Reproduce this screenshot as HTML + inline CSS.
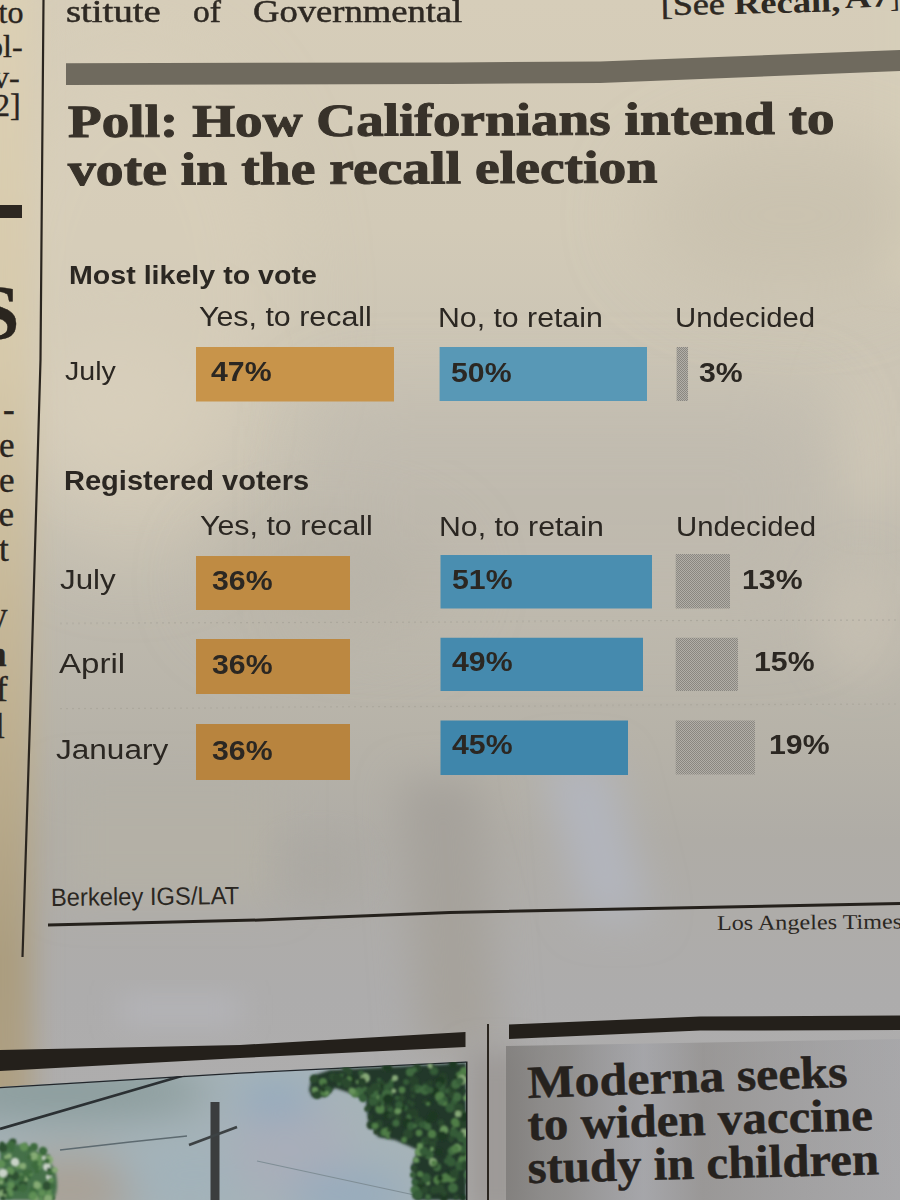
<!DOCTYPE html>
<html><head><meta charset="utf-8"><style>
html,body{margin:0;padding:0;}
body{width:900px;height:1200px;position:relative;overflow:hidden;background:#cfc9bb;}
.t{position:absolute;white-space:nowrap;}
.ov{position:absolute;left:0;top:0;}
</style></head><body>
<svg class="ov" width="900" height="1200" viewBox="0 0 900 1200">
  <defs>
    <filter id="bl40" x="-50%" y="-50%" width="200%" height="200%"><feGaussianBlur stdDeviation="40"/></filter>
    <filter id="bl20" x="-50%" y="-50%" width="200%" height="200%"><feGaussianBlur stdDeviation="20"/></filter>
    <filter id="bl15" x="-50%" y="-50%" width="200%" height="200%"><feGaussianBlur stdDeviation="14"/></filter>
    <linearGradient id="gv" x1="0" y1="0" x2="0" y2="1200" gradientUnits="userSpaceOnUse">
      <stop offset="0" stop-color="#d6cdb9"/>
      <stop offset="0.19" stop-color="#d2cab7"/>
      <stop offset="0.36" stop-color="#c7c1b3"/>
      <stop offset="0.50" stop-color="#bfbaae"/>
      <stop offset="0.62" stop-color="#b6b2a8"/>
      <stop offset="0.70" stop-color="#afaca6"/>
      <stop offset="0.83" stop-color="#adacac"/>
      <stop offset="1" stop-color="#afaeae"/>
    </linearGradient>
    <linearGradient id="glc" x1="0" y1="0" x2="0" y2="1200" gradientUnits="userSpaceOnUse">
      <stop offset="0" stop-color="#dcd0b4"/>
      <stop offset="0.3" stop-color="#d6c9ab"/>
      <stop offset="0.6" stop-color="#bfb090"/>
      <stop offset="0.8" stop-color="#ab9d7f"/>
      <stop offset="1" stop-color="#b0a286"/>
    </linearGradient>
    <linearGradient id="gh" x1="0" y1="0" x2="900" y2="0" gradientUnits="userSpaceOnUse">
      <stop offset="0" stop-color="#fff6e0" stop-opacity="0.14"/>
      <stop offset="0.35" stop-color="#fff6e0" stop-opacity="0.0"/>
      <stop offset="0.7" stop-color="#000" stop-opacity="0.0"/>
      <stop offset="1" stop-color="#000" stop-opacity="0.02"/>
    </linearGradient>
  </defs>
  <rect width="900" height="1200" fill="url(#gv)"/>
  <ellipse cx="130" cy="300" rx="160" ry="260" fill="#dbd1bc" opacity="0.5" filter="url(#bl40)"/>
  <rect x="880" y="-20" width="60" height="300" fill="#d6ceb9" filter="url(#bl15)"/>
  <ellipse cx="120" cy="400" rx="90" ry="70" fill="#d8cfbb" filter="url(#bl40)"/>
  <ellipse cx="870" cy="430" rx="40" ry="80" fill="#cdc6b6" filter="url(#bl20)"/>
  <rect x="320" y="400" width="500" height="220" fill="#bdb8ad" opacity="0.6" filter="url(#bl40)"/>
  <ellipse cx="790" cy="215" rx="150" ry="80" fill="#c5bdab" opacity="0.6" filter="url(#bl40)"/>
  <ellipse cx="330" cy="580" rx="120" ry="60" fill="#b3aea3" opacity="0.5" filter="url(#bl40)"/>
  <ellipse cx="860" cy="620" rx="40" ry="60" fill="#c8c1b3" opacity="0.7" filter="url(#bl20)"/>
  <!-- lower shading -->
  <path d="M400 780 L480 780 L500 1050 L420 1050 Z" fill="#a6a29b" filter="url(#bl20)"/>
  <path d="M540 760 L610 760 L650 920 L585 920 Z" fill="#b2b5bd" filter="url(#bl20)"/>
  <rect x="60" y="780" width="220" height="120" fill="#b4b0a6" filter="url(#bl20)"/>
  <rect x="120" y="995" width="120" height="30" fill="#b4b4b8" filter="url(#bl15)"/>
  <rect x="280" y="840" width="80" height="60" fill="#aaa7a0" opacity="0.7" filter="url(#bl20)"/>
  <rect x="466" y="1050" width="60" height="170" fill="#9d9a97" filter="url(#bl15)"/>

  <!-- left column warm -->
  <rect x="-40" y="-20" width="73" height="1240" fill="url(#glc)" filter="url(#bl15)"/>
</svg>
<svg class="ov" width="900" height="1200" viewBox="0 0 900 1200">
  <defs>
    <pattern id="chk" width="2" height="2" patternUnits="userSpaceOnUse">
      <rect width="2" height="2" fill="#b2afa8"/><rect width="1" height="1" fill="#8a8780"/><rect x="1" y="1" width="1" height="1" fill="#8a8780"/>
    </pattern>
    <pattern id="dash" width="6" height="2" patternUnits="userSpaceOnUse">
      <rect width="2" height="1.5" fill="#aca89d"/>
    </pattern>
    <filter id="tb" x="-20%" y="-20%" width="140%" height="140%"><feGaussianBlur stdDeviation="1.5"/></filter><filter id="tb2" x="-20%" y="-20%" width="140%" height="140%"><feGaussianBlur stdDeviation="0.8"/></filter>
    <linearGradient id="boxg" x1="506" y1="0" x2="900" y2="0" gradientUnits="userSpaceOnUse">
      <stop offset="0" stop-color="#7a7876" stop-opacity="0.75"/>
      <stop offset="0.15" stop-color="#7e7c7a" stop-opacity="0.6"/>
      <stop offset="0.35" stop-color="#9a9ca4" stop-opacity="0.45"/>
      <stop offset="0.5" stop-color="#84817f" stop-opacity="0.5"/>
      <stop offset="1" stop-color="#9c9da3" stop-opacity="0.35"/>
    </linearGradient>
    <clipPath id="pc"><polygon points="0,1087 240,1072.5 466,1061.5 466,1200 0,1200"/></clipPath>
  </defs>
  <path d="M43.5 0 L40.5 360 L30 720 L22.5 957" stroke="#2a251f" stroke-width="2.2" fill="none"/>
  <polygon points="66,63.2 450,62.5 600,61.5 900,50 900,71 600,83 450,84 66,85" fill="#6f6a5e"/>
  <polygon points="56,622.8 900,619 900,620.5 56,624.3" fill="url(#dash)"/>
  <polygon points="56,708 900,703 900,704.5 56,709.5" fill="url(#dash)"/>
  <polygon points="196.0,347.0 394.0,347.0 394.0,401.5 196.0,401.5" fill="#c8944a" /><polygon points="439.6,347.0 647.0,347.0 647.0,401.0 439.6,401.0" fill="#5898b6" /><polygon points="676.6,347.0 688.0,347.0 688.0,401.0 676.6,401.0" fill="url(#chk)" /><polygon points="196.0,556.0 350.0,556.0 350.0,610.0 196.0,610.0" fill="#bf8b43" /><polygon points="440.5,555.0 652.0,555.0 652.0,608.5 440.5,608.5" fill="#4a8eb0" /><polygon points="675.7,554.0 730.0,554.0 730.0,608.5 675.7,608.5" fill="url(#chk)" /><polygon points="196.0,639.0 350.0,639.0 350.0,694.0 196.0,694.0" fill="#bc8841" /><polygon points="440.5,637.7 643.0,637.7 643.0,691.0 440.5,691.0" fill="#458aae" /><polygon points="675.7,637.7 738.0,637.7 738.0,691.0 675.7,691.0" fill="url(#chk)" /><polygon points="196.0,724.0 350.0,724.0 350.0,780.0 196.0,780.0" fill="#b8843e" /><polygon points="440.5,720.5 628.0,720.5 628.0,775.0 440.5,775.0" fill="#3f86ab" /><polygon points="675.7,720.5 755.0,720.5 755.0,774.5 675.7,774.5" fill="url(#chk)" />
  <path d="M48 925 L260 920 L450 912.5 L900 903.5" stroke="#25211c" stroke-width="3" fill="none"/>
  <polygon points="0,1050 240,1045 465.5,1032 465.5,1047 240,1058 0,1071" fill="#24201b"/>
  <polygon points="509,1024.4 700,1016.6 900,1015.6 900,1030 700,1030.6 509,1039" fill="#24201b"/>
  <path d="M488 1024 L488 1200" stroke="#2a251f" stroke-width="2" fill="none"/>
  <path d="M466.5 1061.5 L466.5 1200" stroke="#1c2020" stroke-width="2" fill="none"/>
  <!-- Moderna box -->
  <polygon points="506,1046 900,1039 900,1200 506,1200" fill="url(#boxg)"/>
  <!-- photo -->
  <g clip-path="url(#pc)">
    <rect x="0" y="1050" width="470" height="150" fill="#a6b3b8"/>
    <g filter="url(#bl20)">
      <ellipse cx="60" cy="1092" rx="150" ry="30" fill="#8c9d9d"/>
      <ellipse cx="70" cy="1190" rx="70" ry="35" fill="#a9a196"/>
      <ellipse cx="190" cy="1175" rx="70" ry="35" fill="#a2b2ba"/>
      <ellipse cx="290" cy="1150" rx="60" ry="50" fill="#a9aeb9"/>
      <ellipse cx="350" cy="1195" rx="60" ry="25" fill="#96abbd"/>
      <ellipse cx="275" cy="1100" rx="40" ry="16" fill="#8fa9bf"/>
    </g>
    <path d="M0 1129 L120 1094 L185 1075" stroke="#2b3033" stroke-width="2.8" fill="none"/>
    <path d="M0 1087 L240 1072.5 L466 1061.5" stroke="#22252a" stroke-width="2.5" fill="none"/>
    <path d="M60 1150 L130 1142 L187 1136" stroke="#5d6a70" stroke-width="1.6" fill="none"/>
    <path d="M257 1161 L419 1196" stroke="#7f8e96" stroke-width="1.2" fill="none"/>
    <rect x="210.5" y="1102" width="9" height="100" fill="#3b3d3e"/>
    <path d="M189 1145 L237 1127" stroke="#3d4244" stroke-width="2.8" fill="none"/>
    <g filter="url(#tb)">
      <polygon points="309,1090 312,1076 330,1070 466,1063 466,1200 415,1200 412,1165 418,1150 395,1140 378,1137 368,1120 366,1100 350,1093 335,1088 325,1097 312,1097" fill="#22382b"/>
      <path d="M0 1145 C20 1140 45 1150 55 1170 C60 1190 55 1200 50 1200 L0 1200 Z" fill="#44704a"/>
    </g>
    <g filter="url(#tb2)"><circle cx="358" cy="1082" r="2.2" fill="#66935a"/><circle cx="393" cy="1113" r="3.5" fill="#2b4a2e"/><circle cx="325" cy="1092" r="4.8" fill="#4f7d47"/><circle cx="400" cy="1118" r="2.1" fill="#27422a"/><circle cx="447" cy="1102" r="2.4" fill="#2b4a2e"/><circle cx="410" cy="1114" r="2.2" fill="#4f7d47"/><circle cx="315" cy="1090" r="3.3" fill="#66935a"/><circle cx="380" cy="1103" r="4.1" fill="#3f6a3f"/><circle cx="425" cy="1102" r="2.4" fill="#27422a"/><circle cx="431" cy="1143" r="2.9" fill="#27422a"/><circle cx="420" cy="1146" r="3.4" fill="#4f7d47"/><circle cx="444" cy="1197" r="4.0" fill="#1f3823"/><circle cx="441" cy="1101" r="4.0" fill="#1f3823"/><circle cx="333" cy="1077" r="4.3" fill="#2b4a2e"/><circle cx="440" cy="1185" r="3.2" fill="#355c38"/><circle cx="463" cy="1082" r="2.7" fill="#2b4a2e"/><circle cx="402" cy="1098" r="3.3" fill="#2b4a2e"/><circle cx="462" cy="1160" r="3.9" fill="#4f7d47"/><circle cx="417" cy="1068" r="4.3" fill="#27422a"/><circle cx="449" cy="1176" r="3.2" fill="#1f3823"/><circle cx="339" cy="1084" r="2.2" fill="#355c38"/><circle cx="406" cy="1082" r="3.0" fill="#355c38"/><circle cx="365" cy="1078" r="5.0" fill="#86a877"/><circle cx="382" cy="1130" r="2.3" fill="#2b4a2e"/><circle cx="442" cy="1083" r="4.9" fill="#2b4a2e"/><circle cx="392" cy="1081" r="2.1" fill="#4f7d47"/><circle cx="447" cy="1161" r="3.1" fill="#355c38"/><circle cx="359" cy="1092" r="5.0" fill="#3f6a3f"/><circle cx="446" cy="1177" r="4.2" fill="#3f6a3f"/><circle cx="463" cy="1125" r="5.0" fill="#27422a"/><circle cx="463" cy="1113" r="2.7" fill="#355c38"/><circle cx="444" cy="1130" r="4.4" fill="#66935a"/><circle cx="455" cy="1173" r="3.4" fill="#3f6a3f"/><circle cx="465" cy="1117" r="4.8" fill="#1f3823"/><circle cx="425" cy="1085" r="2.5" fill="#2b4a2e"/><circle cx="454" cy="1177" r="4.5" fill="#2b4a2e"/><circle cx="467" cy="1155" r="3.6" fill="#355c38"/><circle cx="465" cy="1154" r="4.8" fill="#4f7d47"/><circle cx="441" cy="1091" r="2.9" fill="#355c38"/><circle cx="388" cy="1137" r="2.1" fill="#4f7d47"/><circle cx="378" cy="1087" r="4.4" fill="#2b4a2e"/><circle cx="425" cy="1141" r="3.6" fill="#355c38"/><circle cx="432" cy="1134" r="4.3" fill="#4f7d47"/><circle cx="456" cy="1124" r="3.5" fill="#4f7d47"/><circle cx="420" cy="1187" r="2.8" fill="#27422a"/><circle cx="444" cy="1080" r="3.3" fill="#2b4a2e"/><circle cx="317" cy="1095" r="4.0" fill="#2b4a2e"/><circle cx="434" cy="1190" r="4.1" fill="#2b4a2e"/><circle cx="414" cy="1081" r="4.9" fill="#27422a"/><circle cx="468" cy="1181" r="3.3" fill="#2b4a2e"/><circle cx="390" cy="1109" r="3.0" fill="#355c38"/><circle cx="396" cy="1124" r="3.0" fill="#2b4a2e"/><circle cx="408" cy="1134" r="5.0" fill="#2b4a2e"/><circle cx="350" cy="1079" r="4.7" fill="#1f3823"/><circle cx="440" cy="1097" r="4.8" fill="#2b4a2e"/><circle cx="419" cy="1122" r="4.8" fill="#2b4a2e"/><circle cx="380" cy="1109" r="4.8" fill="#4f7d47"/><circle cx="349" cy="1079" r="2.7" fill="#4f7d47"/><circle cx="323" cy="1083" r="2.6" fill="#2b4a2e"/><circle cx="430" cy="1102" r="2.5" fill="#1f3823"/><circle cx="426" cy="1140" r="3.4" fill="#2b4a2e"/><circle cx="459" cy="1075" r="3.3" fill="#3f6a3f"/><circle cx="422" cy="1152" r="3.0" fill="#1f3823"/><circle cx="314" cy="1079" r="4.2" fill="#2b4a2e"/><circle cx="347" cy="1084" r="4.5" fill="#2b4a2e"/><circle cx="449" cy="1157" r="2.7" fill="#355c38"/><circle cx="465" cy="1139" r="4.9" fill="#355c38"/><circle cx="383" cy="1133" r="3.5" fill="#355c38"/><circle cx="355" cy="1094" r="3.6" fill="#4f7d47"/><circle cx="429" cy="1155" r="4.6" fill="#3f6a3f"/><circle cx="369" cy="1107" r="2.4" fill="#27422a"/><circle cx="424" cy="1153" r="4.5" fill="#2b4a2e"/><circle cx="452" cy="1151" r="4.4" fill="#3f6a3f"/><circle cx="438" cy="1180" r="4.7" fill="#4f7d47"/><circle cx="418" cy="1161" r="2.1" fill="#355c38"/><circle cx="437" cy="1168" r="3.6" fill="#1f3823"/><circle cx="414" cy="1070" r="2.8" fill="#3f6a3f"/><circle cx="425" cy="1090" r="4.9" fill="#3f6a3f"/><circle cx="387" cy="1115" r="4.1" fill="#1f3823"/><circle cx="432" cy="1149" r="2.2" fill="#66935a"/><circle cx="428" cy="1104" r="2.0" fill="#4f7d47"/><circle cx="416" cy="1160" r="2.9" fill="#66935a"/><circle cx="390" cy="1127" r="2.4" fill="#1f3823"/><circle cx="452" cy="1089" r="4.8" fill="#27422a"/><circle cx="379" cy="1099" r="4.8" fill="#355c38"/><circle cx="462" cy="1079" r="3.5" fill="#3f6a3f"/><circle cx="451" cy="1162" r="4.7" fill="#355c38"/><circle cx="379" cy="1104" r="3.0" fill="#2b4a2e"/><circle cx="443" cy="1077" r="4.1" fill="#27422a"/><circle cx="454" cy="1102" r="3.2" fill="#355c38"/><circle cx="470" cy="1145" r="3.3" fill="#355c38"/><circle cx="389" cy="1088" r="4.9" fill="#355c38"/><circle cx="451" cy="1178" r="4.7" fill="#4f7d47"/><circle cx="460" cy="1140" r="2.1" fill="#3f6a3f"/><circle cx="426" cy="1125" r="3.9" fill="#3f6a3f"/><circle cx="458" cy="1078" r="3.0" fill="#1f3823"/><circle cx="466" cy="1098" r="2.9" fill="#66935a"/><circle cx="397" cy="1117" r="2.5" fill="#2b4a2e"/><circle cx="387" cy="1092" r="5.0" fill="#27422a"/><circle cx="379" cy="1080" r="2.3" fill="#355c38"/><circle cx="361" cy="1073" r="2.8" fill="#355c38"/><circle cx="429" cy="1120" r="3.6" fill="#1f3823"/><circle cx="367" cy="1109" r="2.8" fill="#2b4a2e"/><circle cx="465" cy="1078" r="3.9" fill="#1f3823"/><circle cx="447" cy="1091" r="2.7" fill="#355c38"/><circle cx="371" cy="1125" r="4.5" fill="#27422a"/><circle cx="453" cy="1129" r="2.0" fill="#4f7d47"/><circle cx="441" cy="1184" r="2.7" fill="#27422a"/><circle cx="323" cy="1082" r="4.0" fill="#4f7d47"/><circle cx="460" cy="1165" r="4.3" fill="#66935a"/><circle cx="412" cy="1104" r="2.8" fill="#2b4a2e"/><circle cx="369" cy="1092" r="2.0" fill="#4f7d47"/><circle cx="463" cy="1153" r="3.4" fill="#27422a"/><circle cx="464" cy="1162" r="2.1" fill="#355c38"/><circle cx="374" cy="1097" r="4.8" fill="#66935a"/><circle cx="418" cy="1089" r="4.2" fill="#3f6a3f"/><circle cx="388" cy="1090" r="2.9" fill="#27422a"/><circle cx="440" cy="1093" r="4.3" fill="#355c38"/><circle cx="387" cy="1087" r="3.3" fill="#355c38"/><circle cx="453" cy="1188" r="5.0" fill="#3f6a3f"/><circle cx="459" cy="1108" r="4.8" fill="#2b4a2e"/><circle cx="415" cy="1115" r="3.0" fill="#355c38"/><circle cx="463" cy="1078" r="2.6" fill="#27422a"/><circle cx="441" cy="1123" r="3.4" fill="#2b4a2e"/><circle cx="453" cy="1064" r="4.4" fill="#1f3823"/><circle cx="432" cy="1066" r="2.2" fill="#2b4a2e"/><circle cx="457" cy="1097" r="4.7" fill="#3f6a3f"/><circle cx="463" cy="1149" r="4.1" fill="#355c38"/><circle cx="456" cy="1152" r="2.1" fill="#27422a"/><circle cx="463" cy="1198" r="2.8" fill="#1f3823"/><circle cx="376" cy="1132" r="2.5" fill="#27422a"/><circle cx="437" cy="1167" r="4.3" fill="#3f6a3f"/><circle cx="405" cy="1108" r="3.1" fill="#355c38"/><circle cx="434" cy="1071" r="4.3" fill="#355c38"/><circle cx="346" cy="1069" r="3.7" fill="#2b4a2e"/><circle cx="349" cy="1072" r="3.5" fill="#2b4a2e"/><circle cx="422" cy="1125" r="3.3" fill="#355c38"/><circle cx="428" cy="1183" r="2.4" fill="#66935a"/><circle cx="444" cy="1103" r="3.1" fill="#4f7d47"/><circle cx="427" cy="1089" r="2.7" fill="#355c38"/><circle cx="400" cy="1107" r="5.0" fill="#1f3823"/><circle cx="389" cy="1094" r="4.0" fill="#3f6a3f"/><circle cx="469" cy="1075" r="4.5" fill="#1f3823"/><circle cx="444" cy="1193" r="2.9" fill="#2b4a2e"/><circle cx="325" cy="1087" r="3.7" fill="#27422a"/><circle cx="458" cy="1114" r="3.3" fill="#86a877"/><circle cx="461" cy="1075" r="3.9" fill="#4f7d47"/><circle cx="328" cy="1090" r="3.8" fill="#355c38"/><circle cx="413" cy="1089" r="3.0" fill="#2b4a2e"/><circle cx="417" cy="1087" r="2.6" fill="#355c38"/><circle cx="436" cy="1139" r="2.3" fill="#2b4a2e"/><circle cx="410" cy="1073" r="4.1" fill="#2b4a2e"/><circle cx="373" cy="1101" r="4.9" fill="#355c38"/><circle cx="365" cy="1089" r="2.6" fill="#3f6a3f"/><circle cx="381" cy="1084" r="3.7" fill="#2b4a2e"/><circle cx="338" cy="1078" r="4.9" fill="#27422a"/><circle cx="385" cy="1068" r="3.2" fill="#27422a"/><circle cx="454" cy="1150" r="2.5" fill="#3f6a3f"/><circle cx="435" cy="1092" r="4.5" fill="#1f3823"/><circle cx="442" cy="1087" r="3.2" fill="#355c38"/><circle cx="390" cy="1116" r="2.7" fill="#2b4a2e"/><circle cx="425" cy="1190" r="3.7" fill="#2b4a2e"/><circle cx="430" cy="1066" r="2.4" fill="#86a877"/><circle cx="404" cy="1140" r="2.9" fill="#4f7d47"/><circle cx="379" cy="1124" r="3.9" fill="#2b4a2e"/><circle cx="386" cy="1094" r="4.3" fill="#3f6a3f"/><circle cx="381" cy="1086" r="2.3" fill="#1f3823"/><circle cx="410" cy="1072" r="4.3" fill="#3f6a3f"/><circle cx="389" cy="1068" r="3.1" fill="#1f3823"/><circle cx="462" cy="1080" r="5.0" fill="#86a877"/><circle cx="426" cy="1178" r="4.9" fill="#355c38"/><circle cx="456" cy="1084" r="4.8" fill="#3f6a3f"/><circle cx="430" cy="1083" r="2.8" fill="#27422a"/><circle cx="440" cy="1081" r="4.8" fill="#1f3823"/><circle cx="388" cy="1106" r="2.5" fill="#2b4a2e"/><circle cx="417" cy="1190" r="4.4" fill="#2b4a2e"/><circle cx="410" cy="1112" r="3.7" fill="#27422a"/><circle cx="409" cy="1117" r="2.8" fill="#3f6a3f"/><circle cx="468" cy="1144" r="4.3" fill="#355c38"/><circle cx="378" cy="1086" r="2.1" fill="#3f6a3f"/><circle cx="440" cy="1097" r="5.0" fill="#4f7d47"/><circle cx="407" cy="1123" r="4.7" fill="#1f3823"/><circle cx="327" cy="1093" r="2.1" fill="#66935a"/><circle cx="402" cy="1090" r="3.4" fill="#4f7d47"/><circle cx="345" cy="1082" r="3.9" fill="#2b4a2e"/><circle cx="449" cy="1173" r="2.8" fill="#1f3823"/><circle cx="398" cy="1111" r="3.3" fill="#66935a"/><circle cx="460" cy="1166" r="4.7" fill="#355c38"/><circle cx="372" cy="1094" r="4.3" fill="#2b4a2e"/><circle cx="460" cy="1081" r="3.8" fill="#355c38"/><circle cx="439" cy="1085" r="2.9" fill="#355c38"/><circle cx="434" cy="1164" r="4.5" fill="#2b4a2e"/><circle cx="428" cy="1127" r="3.4" fill="#3f6a3f"/><circle cx="342" cy="1075" r="2.1" fill="#355c38"/><circle cx="420" cy="1183" r="2.8" fill="#3f6a3f"/><circle cx="396" cy="1123" r="3.6" fill="#3f6a3f"/><circle cx="464" cy="1091" r="2.0" fill="#27422a"/><circle cx="428" cy="1197" r="3.0" fill="#3f6a3f"/><circle cx="450" cy="1108" r="4.7" fill="#355c38"/><circle cx="420" cy="1184" r="4.2" fill="#1f3823"/><circle cx="399" cy="1105" r="3.9" fill="#355c38"/><circle cx="362" cy="1081" r="2.1" fill="#2b4a2e"/><circle cx="419" cy="1152" r="4.2" fill="#66935a"/><circle cx="440" cy="1189" r="4.6" fill="#2b4a2e"/><circle cx="456" cy="1197" r="2.6" fill="#2b4a2e"/><circle cx="445" cy="1178" r="4.5" fill="#4f7d47"/><circle cx="409" cy="1102" r="2.3" fill="#2b4a2e"/><circle cx="430" cy="1090" r="3.3" fill="#355c38"/><circle cx="464" cy="1133" r="3.9" fill="#86a877"/><circle cx="394" cy="1091" r="2.3" fill="#86a877"/><circle cx="440" cy="1085" r="2.6" fill="#2b4a2e"/><circle cx="352" cy="1091" r="3.5" fill="#66935a"/><circle cx="420" cy="1174" r="3.1" fill="#4f7d47"/><circle cx="371" cy="1117" r="2.3" fill="#27422a"/><circle cx="454" cy="1133" r="4.7" fill="#355c38"/><circle cx="429" cy="1154" r="3.0" fill="#355c38"/><circle cx="414" cy="1168" r="3.3" fill="#2b4a2e"/><circle cx="433" cy="1144" r="3.4" fill="#2b4a2e"/><circle cx="451" cy="1095" r="2.9" fill="#2b4a2e"/><circle cx="421" cy="1182" r="2.5" fill="#2b4a2e"/><circle cx="391" cy="1083" r="2.6" fill="#355c38"/><circle cx="466" cy="1166" r="4.9" fill="#2b4a2e"/><circle cx="467" cy="1175" r="3.3" fill="#3f6a3f"/><circle cx="323" cy="1090" r="2.1" fill="#1f3823"/><circle cx="419" cy="1133" r="3.4" fill="#4f7d47"/><circle cx="455" cy="1122" r="4.2" fill="#4f7d47"/><circle cx="374" cy="1093" r="4.6" fill="#3f6a3f"/><circle cx="433" cy="1162" r="4.0" fill="#86a877"/><circle cx="411" cy="1126" r="3.9" fill="#355c38"/><circle cx="434" cy="1163" r="2.8" fill="#4f7d47"/><circle cx="375" cy="1126" r="3.2" fill="#4f7d47"/><circle cx="416" cy="1195" r="4.0" fill="#2b4a2e"/><circle cx="433" cy="1116" r="4.9" fill="#1f3823"/><circle cx="460" cy="1135" r="3.7" fill="#2b4a2e"/><circle cx="442" cy="1136" r="4.8" fill="#1f3823"/><circle cx="363" cy="1098" r="4.2" fill="#355c38"/><circle cx="460" cy="1136" r="4.4" fill="#355c38"/><circle cx="370" cy="1091" r="4.3" fill="#2b4a2e"/><circle cx="439" cy="1152" r="3.7" fill="#1f3823"/><circle cx="440" cy="1178" r="2.9" fill="#1f3823"/><circle cx="395" cy="1078" r="3.1" fill="#86a877"/><circle cx="445" cy="1099" r="2.8" fill="#355c38"/><circle cx="375" cy="1087" r="4.2" fill="#2b4a2e"/><circle cx="414" cy="1113" r="4.6" fill="#27422a"/><circle cx="454" cy="1174" r="4.5" fill="#2b4a2e"/><circle cx="413" cy="1096" r="2.4" fill="#2b4a2e"/><circle cx="362" cy="1082" r="4.4" fill="#27422a"/><circle cx="415" cy="1190" r="4.5" fill="#3f6a3f"/><circle cx="397" cy="1098" r="2.4" fill="#355c38"/><circle cx="386" cy="1068" r="2.4" fill="#1f3823"/><circle cx="386" cy="1132" r="4.6" fill="#4f7d47"/><circle cx="415" cy="1182" r="3.3" fill="#355c38"/><circle cx="464" cy="1071" r="3.9" fill="#4f7d47"/><circle cx="418" cy="1195" r="4.9" fill="#355c38"/><circle cx="389" cy="1130" r="2.1" fill="#27422a"/><circle cx="424" cy="1151" r="4.6" fill="#355c38"/><circle cx="441" cy="1102" r="3.2" fill="#3f6a3f"/><circle cx="388" cy="1099" r="4.9" fill="#1f3823"/><circle cx="413" cy="1175" r="3.0" fill="#355c38"/><circle cx="451" cy="1139" r="2.9" fill="#2b4a2e"/><circle cx="457" cy="1148" r="4.4" fill="#66935a"/><circle cx="455" cy="1149" r="3.9" fill="#4f7d47"/><circle cx="420" cy="1146" r="2.6" fill="#66935a"/><circle cx="415" cy="1126" r="2.3" fill="#3f6a3f"/><circle cx="46" cy="1199" r="2.9" fill="#2d5030"/><circle cx="49" cy="1191" r="2.6" fill="#5f8f55"/><circle cx="18" cy="1166" r="3.1" fill="#5f8f55"/><circle cx="3" cy="1176" r="2.3" fill="#3c6a3e"/><circle cx="49" cy="1177" r="3.1" fill="#c9d3c8"/><circle cx="1" cy="1164" r="4.3" fill="#5f8f55"/><circle cx="25" cy="1145" r="2.5" fill="#2d5030"/><circle cx="0" cy="1184" r="4.4" fill="#3c6a3e"/><circle cx="5" cy="1196" r="2.0" fill="#3c6a3e"/><circle cx="43" cy="1154" r="2.5" fill="#2d5030"/><circle cx="3" cy="1190" r="4.1" fill="#2d5030"/><circle cx="38" cy="1186" r="4.3" fill="#5f8f55"/><circle cx="1" cy="1182" r="2.2" fill="#86ab74"/><circle cx="19" cy="1187" r="4.2" fill="#3c6a3e"/><circle cx="22" cy="1177" r="3.7" fill="#5f8f55"/><circle cx="9" cy="1191" r="3.6" fill="#5f8f55"/><circle cx="38" cy="1166" r="4.0" fill="#5f8f55"/><circle cx="34" cy="1158" r="4.4" fill="#3c6a3e"/><circle cx="42" cy="1193" r="3.5" fill="#5f8f55"/><circle cx="36" cy="1159" r="4.2" fill="#5f8f55"/><circle cx="23" cy="1184" r="4.2" fill="#2d5030"/><circle cx="48" cy="1157" r="2.7" fill="#3c6a3e"/><circle cx="25" cy="1177" r="4.2" fill="#86ab74"/><circle cx="3" cy="1194" r="4.2" fill="#86ab74"/><circle cx="34" cy="1156" r="4.0" fill="#86ab74"/><circle cx="41" cy="1199" r="2.2" fill="#5f8f55"/><circle cx="33" cy="1191" r="3.9" fill="#3c6a3e"/><circle cx="36" cy="1183" r="2.5" fill="#5f8f55"/><circle cx="15" cy="1188" r="3.1" fill="#2d5030"/><circle cx="5" cy="1192" r="2.6" fill="#2d5030"/><circle cx="35" cy="1198" r="3.3" fill="#86ab74"/><circle cx="29" cy="1177" r="2.5" fill="#3c6a3e"/><circle cx="11" cy="1185" r="3.4" fill="#5f8f55"/><circle cx="24" cy="1173" r="2.1" fill="#3c6a3e"/><circle cx="6" cy="1180" r="2.4" fill="#2d5030"/><circle cx="36" cy="1161" r="2.1" fill="#5f8f55"/><circle cx="52" cy="1171" r="2.7" fill="#5f8f55"/><circle cx="47" cy="1167" r="3.9" fill="#c9d3c8"/><circle cx="12" cy="1150" r="2.1" fill="#3c6a3e"/><circle cx="33" cy="1196" r="4.4" fill="#5f8f55"/><circle cx="36" cy="1165" r="4.4" fill="#3c6a3e"/><circle cx="15" cy="1176" r="4.4" fill="#2d5030"/><circle cx="40" cy="1164" r="2.4" fill="#5f8f55"/><circle cx="15" cy="1162" r="4.3" fill="#c9d3c8"/><circle cx="47" cy="1186" r="4.5" fill="#2d5030"/><circle cx="3" cy="1148" r="4.3" fill="#2d5030"/><circle cx="41" cy="1158" r="3.9" fill="#5f8f55"/><circle cx="6" cy="1160" r="2.3" fill="#3c6a3e"/><circle cx="29" cy="1149" r="2.4" fill="#3c6a3e"/><circle cx="43" cy="1151" r="4.3" fill="#3c6a3e"/><circle cx="52" cy="1198" r="3.1" fill="#3c6a3e"/><circle cx="51" cy="1180" r="2.8" fill="#5f8f55"/><circle cx="49" cy="1170" r="2.4" fill="#2d5030"/><circle cx="13" cy="1142" r="3.4" fill="#2d5030"/><circle cx="9" cy="1196" r="3.0" fill="#3c6a3e"/><circle cx="9" cy="1156" r="2.8" fill="#86ab74"/><circle cx="10" cy="1171" r="4.3" fill="#5f8f55"/><circle cx="3" cy="1198" r="2.5" fill="#2d5030"/><circle cx="29" cy="1157" r="2.5" fill="#3c6a3e"/><circle cx="6" cy="1157" r="2.1" fill="#86ab74"/><circle cx="44" cy="1158" r="2.0" fill="#c9d3c8"/><circle cx="48" cy="1161" r="2.0" fill="#3c6a3e"/><circle cx="50" cy="1173" r="3.1" fill="#3c6a3e"/><circle cx="34" cy="1147" r="3.9" fill="#3c6a3e"/><circle cx="43" cy="1151" r="2.2" fill="#3c6a3e"/><circle cx="37" cy="1171" r="2.5" fill="#3c6a3e"/><circle cx="37" cy="1185" r="3.5" fill="#86ab74"/><circle cx="12" cy="1142" r="3.0" fill="#2d5030"/><circle cx="49" cy="1160" r="4.2" fill="#86ab74"/><circle cx="55" cy="1170" r="2.7" fill="#86ab74"/><circle cx="11" cy="1194" r="2.4" fill="#5f8f55"/><circle cx="22" cy="1178" r="3.3" fill="#3c6a3e"/><circle cx="27" cy="1173" r="3.8" fill="#3c6a3e"/><circle cx="49" cy="1196" r="3.8" fill="#5f8f55"/><circle cx="23" cy="1188" r="4.2" fill="#3c6a3e"/><circle cx="31" cy="1174" r="2.1" fill="#5f8f55"/><circle cx="11" cy="1145" r="4.0" fill="#3c6a3e"/><circle cx="2" cy="1144" r="2.5" fill="#2d5030"/><circle cx="1" cy="1178" r="3.3" fill="#5f8f55"/><circle cx="52" cy="1186" r="2.3" fill="#3c6a3e"/><circle cx="30" cy="1172" r="2.3" fill="#3c6a3e"/><circle cx="24" cy="1147" r="4.2" fill="#5f8f55"/><circle cx="9" cy="1176" r="2.4" fill="#2d5030"/><circle cx="23" cy="1166" r="3.3" fill="#86ab74"/><circle cx="47" cy="1161" r="2.8" fill="#3c6a3e"/><circle cx="48" cy="1199" r="4.1" fill="#86ab74"/><circle cx="3" cy="1173" r="4.3" fill="#c9d3c8"/></g>
  </g>
  </g>
</svg>
<div class="t" style="left:65.5px;top:-4.4px;font-family:'Liberation Serif', serif;font-weight:normal;font-size:31px;line-height:31px;color:#2e2923;transform-origin:0 25.7px;transform:scaleX(1.25);-webkit-text-stroke:0.5px #2e2923;">stitute</div>
<div class="t" style="left:192.5px;top:-4.4px;font-family:'Liberation Serif', serif;font-weight:normal;font-size:31px;line-height:31px;color:#2e2923;transform-origin:0 25.7px;transform:scaleX(1.08);-webkit-text-stroke:0.5px #2e2923;">of</div>
<div class="t" style="left:252.5px;top:-4.4px;font-family:'Liberation Serif', serif;font-weight:normal;font-size:31px;line-height:31px;color:#2e2923;transform-origin:0 25.7px;transform:scaleX(1.18);-webkit-text-stroke:0.5px #2e2923;">Governmental</div>
<div class="t" style="left:661.0px;top:-9.9px;font-family:'Liberation Serif', serif;font-weight:normal;font-size:30px;line-height:30px;color:#2e2923;transform-origin:0 24.9px;transform:rotate(-1deg) scaleX(1.2);-webkit-text-stroke:0.5px #2e2923;">[See</div>
<div class="t" style="left:734.0px;top:-11.4px;font-family:'Liberation Serif', serif;font-weight:bold;font-size:30px;line-height:30px;color:#2e2923;transform-origin:0 24.9px;transform:rotate(-1.5deg) scaleX(1.22);">Recall,</div>
<div class="t" style="left:845.0px;top:-17.4px;font-family:'Liberation Serif', serif;font-weight:bold;font-size:30px;line-height:30px;color:#2e2923;transform-origin:0 24.9px;transform:rotate(-2deg) scaleX(1.22);">A7</div>
<div class="t" style="left:890.0px;top:-17.9px;font-family:'Liberation Serif', serif;font-weight:normal;font-size:30px;line-height:30px;color:#2e2923;transform-origin:0 24.9px;transform:rotate(-2deg) scaleX(1.0);">]</div>
<div class="t" style="left:67.5px;top:99.0px;font-family:'Liberation Serif', serif;font-weight:bold;font-size:46px;line-height:46px;color:#38322a;transform-origin:0 38.2px;transform:rotate(-0.25deg) scaleX(1.2);-webkit-text-stroke:1.0px #38322a;">Poll: How Californians intend to</div>
<div class="t" style="left:67.5px;top:147.0px;font-family:'Liberation Serif', serif;font-weight:bold;font-size:46px;line-height:46px;color:#38322a;transform-origin:0 38.2px;transform:rotate(-0.25deg) scaleX(1.21);-webkit-text-stroke:1.0px #38322a;">vote in the recall election</div>
<div class="t" style="left:69.0px;top:262.1px;font-family:'Liberation Sans', sans-serif;font-weight:bold;font-size:26px;line-height:26px;color:#2b2722;transform-origin:0 22.1px;transform:scaleX(1.1);">Most likely to vote</div>
<div class="t" style="left:199.0px;top:303.6px;font-family:'Liberation Sans', sans-serif;font-weight:normal;font-size:27px;line-height:27px;color:#2b2722;transform-origin:0 22.9px;transform:scaleX(1.125);">Yes, to recall</div>
<div class="t" style="left:437.5px;top:304.6px;font-family:'Liberation Sans', sans-serif;font-weight:normal;font-size:27px;line-height:27px;color:#2b2722;transform-origin:0 22.9px;transform:scaleX(1.12);">No, to retain</div>
<div class="t" style="left:675.0px;top:304.6px;font-family:'Liberation Sans', sans-serif;font-weight:normal;font-size:27px;line-height:27px;color:#2b2722;transform-origin:0 22.9px;transform:scaleX(1.085);">Undecided</div>
<div class="t" style="left:65.0px;top:358.2px;font-family:'Liberation Sans', sans-serif;font-weight:normal;font-size:26px;line-height:26px;color:#2b2722;transform-origin:0 22.1px;transform:scaleX(1.1);">July</div>
<div class="t" style="left:211.0px;top:358.6px;font-family:'Liberation Sans', sans-serif;font-weight:bold;font-size:27px;line-height:27px;color:#2b2722;transform-origin:0 22.9px;transform:scaleX(1.12);">47%</div>
<div class="t" style="left:451.0px;top:360.4px;font-family:'Liberation Sans', sans-serif;font-weight:bold;font-size:27px;line-height:27px;color:#2b2722;transform-origin:0 22.9px;transform:scaleX(1.12);">50%</div>
<div class="t" style="left:699.0px;top:360.1px;font-family:'Liberation Sans', sans-serif;font-weight:bold;font-size:27px;line-height:27px;color:#2b2722;transform-origin:0 22.9px;transform:scaleX(1.12);">3%</div>
<div class="t" style="left:63.5px;top:468.2px;font-family:'Liberation Sans', sans-serif;font-weight:bold;font-size:27px;line-height:27px;color:#2b2722;transform-origin:0 22.9px;transform:scaleX(1.075);">Registered voters</div>
<div class="t" style="left:200.0px;top:512.5px;font-family:'Liberation Sans', sans-serif;font-weight:normal;font-size:27px;line-height:27px;color:#2b2722;transform-origin:0 22.9px;transform:scaleX(1.125);">Yes, to recall</div>
<div class="t" style="left:439.0px;top:513.5px;font-family:'Liberation Sans', sans-serif;font-weight:normal;font-size:27px;line-height:27px;color:#2b2722;transform-origin:0 22.9px;transform:scaleX(1.12);">No, to retain</div>
<div class="t" style="left:676.0px;top:513.5px;font-family:'Liberation Sans', sans-serif;font-weight:normal;font-size:27px;line-height:27px;color:#2b2722;transform-origin:0 22.9px;transform:scaleX(1.085);">Undecided</div>
<div class="t" style="left:59.5px;top:567.0px;font-family:'Liberation Sans', sans-serif;font-weight:normal;font-size:27px;line-height:27px;color:#2b2722;transform-origin:0 22.9px;transform:scaleX(1.16);">July</div>
<div class="t" style="left:212.0px;top:567.8px;font-family:'Liberation Sans', sans-serif;font-weight:bold;font-size:27px;line-height:27px;color:#2b2722;transform-origin:0 22.9px;transform:scaleX(1.12);">36%</div>
<div class="t" style="left:452.0px;top:566.6px;font-family:'Liberation Sans', sans-serif;font-weight:bold;font-size:27px;line-height:27px;color:#2b2722;transform-origin:0 22.9px;transform:scaleX(1.12);">51%</div>
<div class="t" style="left:742.0px;top:567.0px;font-family:'Liberation Sans', sans-serif;font-weight:bold;font-size:27px;line-height:27px;color:#2b2722;transform-origin:0 22.9px;transform:scaleX(1.12);">13%</div>
<div class="t" style="left:59.2px;top:651.0px;font-family:'Liberation Sans', sans-serif;font-weight:normal;font-size:27px;line-height:27px;color:#2b2722;transform-origin:0 22.9px;transform:scaleX(1.225);">April</div>
<div class="t" style="left:212.0px;top:652.2px;font-family:'Liberation Sans', sans-serif;font-weight:bold;font-size:27px;line-height:27px;color:#2b2722;transform-origin:0 22.9px;transform:scaleX(1.12);">36%</div>
<div class="t" style="left:452.0px;top:649.3px;font-family:'Liberation Sans', sans-serif;font-weight:bold;font-size:27px;line-height:27px;color:#2b2722;transform-origin:0 22.9px;transform:scaleX(1.12);">49%</div>
<div class="t" style="left:753.6px;top:649.0px;font-family:'Liberation Sans', sans-serif;font-weight:bold;font-size:27px;line-height:27px;color:#2b2722;transform-origin:0 22.9px;transform:scaleX(1.12);">15%</div>
<div class="t" style="left:55.5px;top:737.0px;font-family:'Liberation Sans', sans-serif;font-weight:normal;font-size:27px;line-height:27px;color:#2b2722;transform-origin:0 22.9px;transform:scaleX(1.168);">January</div>
<div class="t" style="left:212.0px;top:737.8px;font-family:'Liberation Sans', sans-serif;font-weight:bold;font-size:27px;line-height:27px;color:#2b2722;transform-origin:0 22.9px;transform:scaleX(1.12);">36%</div>
<div class="t" style="left:452.0px;top:732.3px;font-family:'Liberation Sans', sans-serif;font-weight:bold;font-size:27px;line-height:27px;color:#2b2722;transform-origin:0 22.9px;transform:scaleX(1.12);">45%</div>
<div class="t" style="left:769.0px;top:732.0px;font-family:'Liberation Sans', sans-serif;font-weight:bold;font-size:27px;line-height:27px;color:#2b2722;transform-origin:0 22.9px;transform:scaleX(1.12);">19%</div>
<div class="t" style="left:51.0px;top:885.0px;font-family:'Liberation Sans', sans-serif;font-weight:normal;font-size:25px;line-height:25px;color:#2b2722;transform-origin:0 21.2px;transform:rotate(-0.6deg) scaleX(0.95);">Berkeley IGS/LAT</div>
<div class="t" style="left:717.0px;top:912.6px;font-family:'Liberation Serif', serif;font-weight:normal;font-size:21px;line-height:21px;color:#2b2722;transform-origin:0 17.4px;transform:rotate(-0.5deg) scaleX(1.15);">Los Angeles Times</div>
<div class="t" style="left:528.0px;top:1060.3px;font-family:'Liberation Serif', serif;font-weight:bold;font-size:46px;line-height:46px;color:#26221e;transform-origin:0 38.2px;transform:rotate(-2.0deg) scaleX(1.085);-webkit-text-stroke:0.5px #26221e;">Moderna seeks</div>
<div class="t" style="left:528.0px;top:1101.8px;font-family:'Liberation Serif', serif;font-weight:bold;font-size:46px;line-height:46px;color:#26221e;transform-origin:0 38.2px;transform:rotate(-1.65deg) scaleX(1.064);-webkit-text-stroke:0.5px #26221e;">to widen vaccine</div>
<div class="t" style="left:528.0px;top:1144.8px;font-family:'Liberation Serif', serif;font-weight:bold;font-size:46px;line-height:46px;color:#26221e;transform-origin:0 38.2px;transform:rotate(-1.43deg) scaleX(1.06);-webkit-text-stroke:0.5px #26221e;">study in children</div>
<div class="t" style="left:-1.5px;top:-4.1px;font-family:'Liberation Serif', serif;font-weight:normal;font-size:32px;line-height:32px;color:#2a251f;transform-origin:0 26.6px;transform:scaleX(1.0);-webkit-text-stroke:0.4px #2a251f;">to</div>
<div class="t" style="left:-13.0px;top:30.4px;font-family:'Liberation Serif', serif;font-weight:normal;font-size:32px;line-height:32px;color:#2a251f;transform-origin:0 26.6px;transform:scaleX(1.0);-webkit-text-stroke:0.4px #2a251f;">ol-</div>
<div class="t" style="left:-7.0px;top:60.9px;font-family:'Liberation Serif', serif;font-weight:normal;font-size:32px;line-height:32px;color:#2a251f;transform-origin:0 26.6px;transform:scaleX(1.0);-webkit-text-stroke:0.4px #2a251f;">v-</div>
<div class="t" style="left:-6.0px;top:89.4px;font-family:'Liberation Serif', serif;font-weight:normal;font-size:32px;line-height:32px;color:#2a251f;transform-origin:0 26.6px;transform:scaleX(1.0);-webkit-text-stroke:0.4px #2a251f;">2]</div>
<div class="t" style="left:-24.0px;top:274.3px;font-family:'Liberation Serif', serif;font-weight:bold;font-size:78px;line-height:78px;color:#2a251f;transform-origin:0 64.7px;transform:scaleX(1.0);-webkit-text-stroke:0.4px #2a251f;">S</div>
<div style="position:absolute;left:0;top:204.7px;width:21.7px;height:13.5px;background:#2c2721"></div>
<div class="t" style="left:3.0px;top:391.9px;font-family:'Liberation Serif', serif;font-weight:normal;font-size:35px;line-height:35px;color:#2a251f;transform-origin:0 29.0px;transform:scaleX(1.0);-webkit-text-stroke:0.4px #2a251f;">-</div>
<div class="t" style="left:-1.0px;top:428.4px;font-family:'Liberation Serif', serif;font-weight:normal;font-size:35px;line-height:35px;color:#2a251f;transform-origin:0 29.0px;transform:scaleX(1.0);-webkit-text-stroke:0.4px #2a251f;">e</div>
<div class="t" style="left:-1.0px;top:462.9px;font-family:'Liberation Serif', serif;font-weight:normal;font-size:35px;line-height:35px;color:#2a251f;transform-origin:0 29.0px;transform:scaleX(1.0);-webkit-text-stroke:0.4px #2a251f;">e</div>
<div class="t" style="left:-1.5px;top:497.4px;font-family:'Liberation Serif', serif;font-weight:normal;font-size:35px;line-height:35px;color:#2a251f;transform-origin:0 29.0px;transform:scaleX(1.0);-webkit-text-stroke:0.4px #2a251f;">e</div>
<div class="t" style="left:-1.0px;top:531.5px;font-family:'Liberation Serif', serif;font-weight:normal;font-size:35px;line-height:35px;color:#2a251f;transform-origin:0 29.0px;transform:scaleX(1.0);-webkit-text-stroke:0.4px #2a251f;">t</div>
<div class="t" style="left:-10.0px;top:598.0px;font-family:'Liberation Serif', serif;font-weight:normal;font-size:35px;line-height:35px;color:#2a251f;transform-origin:0 29.0px;transform:scaleX(1.0);-webkit-text-stroke:0.4px #2a251f;">y</div>
<div class="t" style="left:-13.0px;top:637.0px;font-family:'Liberation Serif', serif;font-weight:bold;font-size:35px;line-height:35px;color:#2a251f;transform-origin:0 29.0px;transform:scaleX(1.0);-webkit-text-stroke:0.4px #2a251f;">n</div>
<div class="t" style="left:-4.0px;top:672.0px;font-family:'Liberation Serif', serif;font-weight:normal;font-size:35px;line-height:35px;color:#2a251f;transform-origin:0 29.0px;transform:scaleX(1.0);-webkit-text-stroke:0.4px #2a251f;">f</div>
<div class="t" style="left:-5.0px;top:708.5px;font-family:'Liberation Serif', serif;font-weight:normal;font-size:35px;line-height:35px;color:#2a251f;transform-origin:0 29.0px;transform:scaleX(1.0);-webkit-text-stroke:0.4px #2a251f;">l</div>
</body></html>
